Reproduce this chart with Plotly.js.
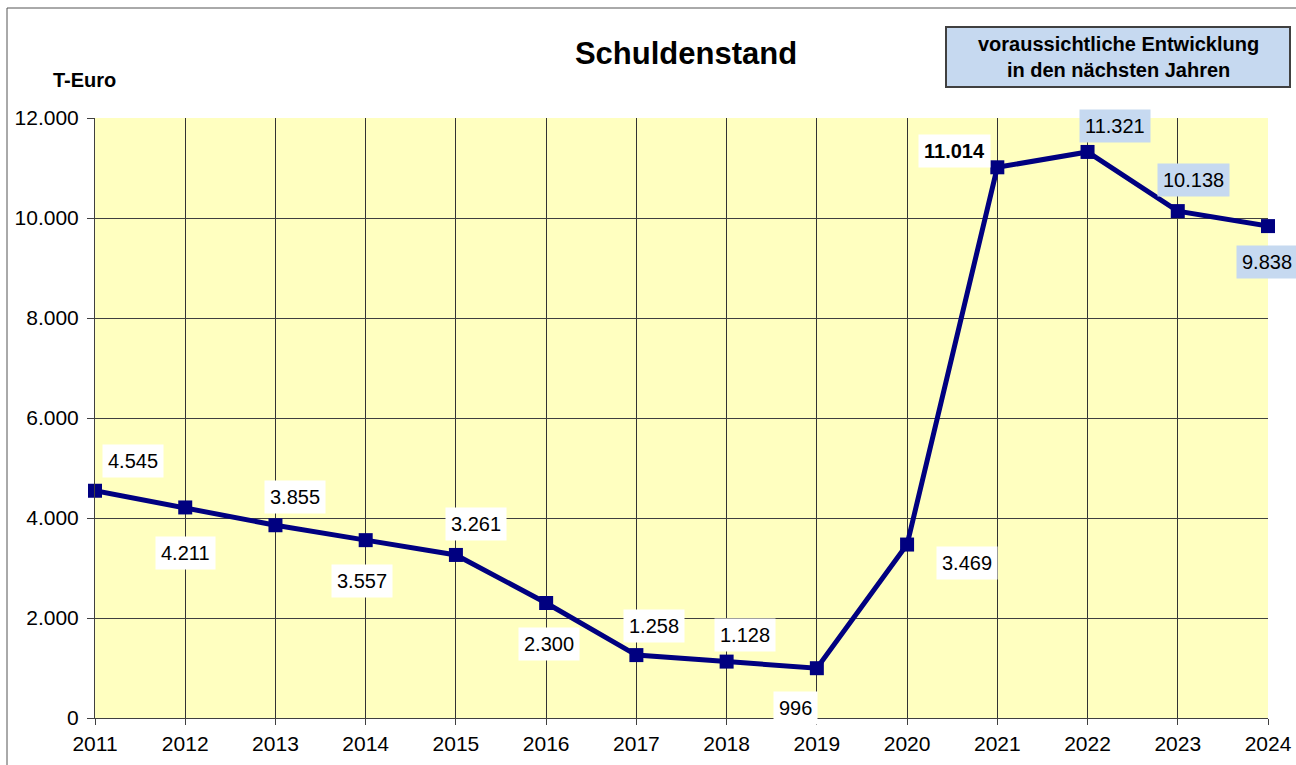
<!DOCTYPE html>
<html>
<head>
<meta charset="utf-8">
<script src="https://cdn.plot.ly/plotly-3.0.1.min.js"></script>
<style>html,body{margin:0;padding:0;background:#fff;}#chart{width:1296px;height:765px;}</style>
</head>
<body>
<div id="chart"></div>
<script>
const years = [2011, 2012, 2013, 2014, 2015, 2016, 2017, 2018, 2019, 2020, 2021, 2022, 2023, 2024];
const debt = [4545, 4211, 3855, 3557, 3261, 2300, 1258, 1128, 996, 3469, 11014, 11321, 10138, 9838];
const labels = ['4.545', '4.211', '3.855', '3.557', '3.261', '2.300', '1.258', '1.128', '996', '3.469', '11.014', '11.321', '10.138', '9.838'];
const yTicks = [0, 2000, 4000, 6000, 8000, 10000, 12000];
const yTickText = ['0', '2.000', '4.000', '6.000', '8.000', '10.000', '12.000'];
const forecastYears = [2022, 2023, 2024];

// label offsets in pixels (style only)
const offsets = [[38, 30], [0, -46], [20, 28], [-4, -41], [20, 31], [3, -41], [18, 29], [18, 27], [-21, -40], [60, -18], [-43, 16], [27, 26], [16, 31], [-1, -36]];

const FONT = 'Liberation Sans, Arial, sans-serif';

const annotations = years.map((yr, i) => ({
  x: yr, y: debt[i], xref: 'x', yref: 'y',
  xshift: offsets[i][0], yshift: offsets[i][1],
  text: yr === 2021 ? '<b>' + labels[i] + '</b>' : labels[i],
  showarrow: false,
  font: {family: FONT, size: 20, color: '#000'},
  bgcolor: forecastYears.includes(yr) ? '#C6D9F0' : '#FFFFFF',
  borderpad: 5
}));

annotations.push({
  xref: 'paper', yref: 'paper', x: (84 - 95) / 1173, y: (718 - 80) / 600,
  xanchor: 'center', yanchor: 'middle',
  text: '<b>T-Euro</b>', showarrow: false,
  font: {family: FONT, size: 20, color: '#000'}
});
annotations.push({
  xref: 'paper', yref: 'paper', x: (1118 - 95) / 1173, y: (718 - 57) / 600,
  xanchor: 'center', yanchor: 'middle',
  text: '<b>voraussichtliche Entwicklung<br>in den nächsten Jahren</b>',
  showarrow: false,
  font: {family: FONT, size: 20, color: '#000'}
});

const shapes = [
  {type: 'rect', xref: 'paper', yref: 'paper',
   x0: (7 - 95) / 1173, x1: 1.2, y0: -0.3, y1: (718 - 8) / 600,
   line: {color: '#555555', width: 1}, fillcolor: 'rgba(0,0,0,0)', layer: 'below'},
  {type: 'rect', xref: 'paper', yref: 'paper',
   x0: (946 - 95) / 1173, x1: (1290 - 95) / 1173, y0: (718 - 87) / 600, y1: (718 - 27) / 600,
   line: {color: '#404040', width: 2}, fillcolor: '#C6D9F0'}
];

const trace = {
  x: years, y: debt, type: 'scatter', mode: 'lines+markers',
  line: {color: '#000080', width: 5},
  marker: {symbol: 'square', size: 14, color: '#000080'},
  hoverinfo: 'x+y', cliponaxis: false
};

const layout = {
  width: 1296, height: 765,
  margin: {l: 95, r: 28, t: 118, b: 47},
  paper_bgcolor: '#FFFFFF',
  plot_bgcolor: '#FFFFC0',
  showlegend: false,
  title: {text: '<b>Schuldenstand</b>', x: 686 / 1296, xanchor: 'center', y: 1 - 53 / 765, yanchor: 'middle',
          font: {family: FONT, size: 31, color: '#000'}},
  xaxis: {
    range: [2011, 2024], tickmode: 'array', tickvals: years, ticktext: years.map(String),
    showgrid: true, gridcolor: '#333333', gridwidth: 1,
    showline: true, linecolor: '#404040', linewidth: 1, mirror: false,
    ticks: 'outside', ticklen: 6, tickcolor: '#404040', ticklabelstandoff: 1,
    tickfont: {family: FONT, size: 21, color: '#000'}, zeroline: false, fixedrange: true
  },
  yaxis: {
    range: [0, 12000], tickmode: 'array', tickvals: yTicks, ticktext: yTickText,
    showgrid: true, gridcolor: '#404040', gridwidth: 1,
    showline: true, linecolor: '#404040', linewidth: 1,
    ticks: 'outside', ticklen: 7, tickcolor: '#404040', ticklabelstandoff: 4,
    tickfont: {family: FONT, size: 21, color: '#000'}, zeroline: false, fixedrange: true
  },
  annotations: annotations,
  shapes: shapes
};

Plotly.newPlot('chart', [trace], layout, {displayModeBar: false, staticPlot: true});
</script>
</body>
</html>
